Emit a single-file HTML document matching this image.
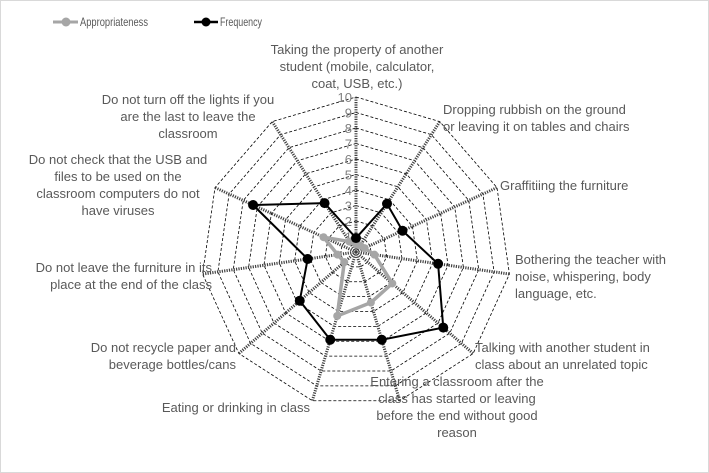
<!DOCTYPE html>
<html><head><meta charset="utf-8"><style>
html,body{margin:0;padding:0;background:#fff;}
svg{display:block;font-family:"Liberation Sans",sans-serif;}
</style></head><body>
<svg id="s" width="709" height="473" viewBox="0 0 709 473" xmlns="http://www.w3.org/2000/svg">
<rect x="0.5" y="0.5" width="708" height="472" fill="#fff" stroke="#d9d9d9"/>
<g id="grid"></g>
<g font-size="13" fill="#595959">
<line x1="53" y1="22" x2="78" y2="22" stroke="#a6a6a6" stroke-width="3"/><circle cx="66" cy="22" r="4.5" fill="#a6a6a6"/>
<text x="80" y="26" font-size="12" textLength="68" lengthAdjust="spacingAndGlyphs">Appropriateness</text>
<line x1="194" y1="22" x2="218" y2="22" stroke="#000" stroke-width="2.5"/><circle cx="206" cy="22" r="4.5" fill="#000"/>
<text x="220" y="26" font-size="12" textLength="42" lengthAdjust="spacingAndGlyphs">Frequency</text>
<g text-anchor="middle">
<text x="357" y="54">Taking the property of another</text>
<text x="357" y="71">student (mobile, calculator,</text>
<text x="357" y="88">coat, USB, etc.)</text>
<text x="457" y="386">Entering a classroom after the</text>
<text x="457" y="403">class has started or leaving</text>
<text x="457" y="420">before the end without good</text>
<text x="457" y="437">reason</text>
<text x="118" y="164">Do not check that the USB and</text>
<text x="118" y="181">files to be used on the</text>
<text x="118" y="198">classroom computers do not</text>
<text x="118" y="215">have viruses</text>
<text x="188" y="104">Do not turn off the lights if you</text>
<text x="188" y="121">are the last to leave the</text>
<text x="188" y="138">classroom</text>
</g>
<text x="443" y="114">Dropping rubbish on the ground</text>
<text x="443" y="131">or leaving it on tables and chairs</text>
<text x="500" y="190">Graffitiing the furniture</text>
<text x="515" y="264">Bothering the teacher with</text>
<text x="515" y="281">noise, whispering, body</text>
<text x="515" y="298">language, etc.</text>
<text x="475" y="352">Talking with another student in</text>
<text x="475" y="369">class about an unrelated topic</text>
<text x="310" y="412" text-anchor="end">Eating or drinking in class</text>
<text x="236" y="352" text-anchor="end">Do not recycle paper and</text>
<text x="236" y="369" text-anchor="end">beverage bottles/cans</text>
<text x="212" y="272" text-anchor="end">Do not leave the furniture in its</text>
<text x="212" y="289" text-anchor="end">place at the end of the class</text>
</g>
<g id="data"></g>
</svg>
<script>
var cx=356,cy=252,R=15.5,N=11,ns="http://www.w3.org/2000/svg";
function pt(k,v){var a=(-90+k*360/N)*Math.PI/180;return [cx+v*R*Math.cos(a),cy+v*R*Math.sin(a)];}
function el(t,at,p){var e=document.createElementNS(ns,t);for(var k in at)e.setAttribute(k,at[k]);p.appendChild(e);return e;}
var g=document.getElementById('grid'),d=document.getElementById('data');
for(var l=1;l<=10;l++){var ps=[];for(var k=0;k<N;k++)ps.push(pt(k,l).join(','));
el('polygon',{points:ps.join(' '),fill:'none',stroke:'#000','stroke-width':0.8,'stroke-dasharray':'3,2'},g);}
for(var k=0;k<N;k++){var p=pt(k,10);el('line',{x1:cx,y1:cy,x2:p[0],y2:p[1],stroke:'#404040','stroke-width':3,'stroke-dasharray':'1.2,1.2'},g);}
for(var l=1;l<=10;l++){var t=el('text',{x:cx-4,y:cy-l*R+5,'text-anchor':'end','font-size':13,fill:'#7f7f7f'},g);t.textContent=l;}
function series(vals,col,w,r){var ps=vals.map(function(v,k){return pt(k,v).join(',');});
el('polygon',{points:ps.join(' '),fill:'none',stroke:col,'stroke-width':w},d);
vals.forEach(function(v,k){var p=pt(k,v);el('circle',{cx:p[0],cy:p[1],r:r,fill:col},d);});}
series([0.5,0.5,0.6,1.2,3.1,3.4,4.3,1,1.2,2.3,0.8],'#a6a6a6',3.5,4);
series([0.9,3.7,3.3,5.35,7.45,5.9,5.9,4.8,3.15,7.3,3.75],'#000',2,5);
</script>
</body></html>
